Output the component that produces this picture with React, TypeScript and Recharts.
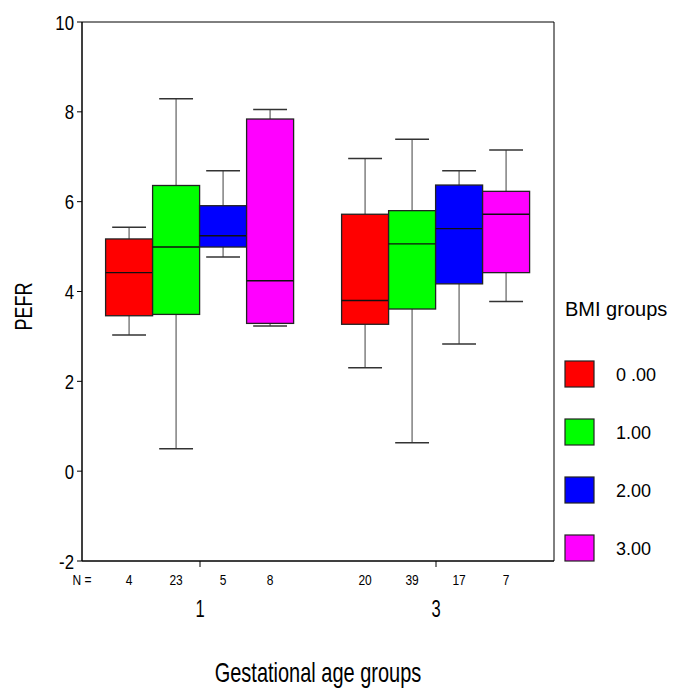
import { ComposedChart, Bar, XAxis, YAxis, ReferenceArea, Legend } from 'recharts'

// gestational age groups on the x axis, BMI groups as side-by-side boxes
const gestGroups = ['1', '3']
const bmiLabels = ['0 .00', '1.00', '2.00', '3.00']
const bmiColors = ['#ff0000', '#00ff00', '#0000ff', '#ff00ff']

// rows = gestational group, columns = BMI group
const nCounts = [[4, 23, 5, 8], [20, 39, 17, 7]]
const whiskerLow = [[3.03, 0.5, 4.77, 3.23], [2.3, 0.63, 2.83, 3.78]]
const quartile1 = [[3.46, 3.49, 4.99, 3.29], [3.27, 3.61, 4.17, 4.42]]
const medians = [[4.42, 4.99, 5.24, 4.24], [3.8, 5.06, 5.4, 5.72]]
const quartile3 = [[5.17, 6.36, 5.91, 7.84], [5.72, 5.8, 6.37, 6.23]]
const whiskerHigh = [[5.43, 8.29, 6.69, 8.05], [6.96, 7.39, 6.69, 7.15]]

const yTicks = [-2, 0, 2, 4, 6, 8, 10]

const FONT = '"Liberation Sans", Arial, sans-serif'

const data = gestGroups.map((g, gi) => {
  const row: any = { group: g }
  bmiLabels.forEach((_, bi) => {
    row['s' + bi] = {
      lo: whiskerLow[gi][bi],
      q1: quartile1[gi][bi],
      med: medians[gi][bi],
      q3: quartile3[gi][bi],
      hi: whiskerHigh[gi][bi],
      n: nCounts[gi][bi],
    }
  })
  return row
})

// condensed-looking text, like the SPSS output
const SText = ({ x, y, size, sx = 0.75, anchor = 'middle', rotate = false, children }: any) => (
  <text
    transform={`translate(${x},${y})${rotate ? ' rotate(-90)' : ''} scale(${sx},1)`}
    fontSize={size}
    fontFamily={FONT}
    textAnchor={anchor}
    fill="#000"
  >
    {children}
  </text>
)

const BoxShape = (props: any) => {
  const { x, y, width, height, fill, stat } = props
  if (!stat) return null
  const top = Math.min(y, y + height)
  const bot = Math.max(y, y + height)
  const k = (bot - top) / (stat.hi - stat.lo)
  const yOf = (v: number) => top + (stat.hi - v) * k
  const cx = x + width / 2
  const capW = width * 0.72
  const yQ1 = yOf(stat.q1)
  const yQ3 = yOf(stat.q3)
  const yMed = yOf(stat.med)
  return (
    <g>
      <line x1={cx} x2={cx} y1={top} y2={yQ3} stroke="#808080" strokeWidth={1.5} />
      <line x1={cx} x2={cx} y1={yQ1} y2={bot} stroke="#808080" strokeWidth={1.5} />
      <line x1={cx - capW / 2} x2={cx + capW / 2} y1={top} y2={top} stroke="#333" strokeWidth={1.5} />
      <line x1={cx - capW / 2} x2={cx + capW / 2} y1={bot} y2={bot} stroke="#333" strokeWidth={1.5} />
      <rect x={x} y={yQ3} width={width} height={yQ1 - yQ3} fill={fill} stroke="#222" strokeWidth={1.3} />
      <line x1={x} x2={x + width} y1={yMed} y2={yMed} stroke="#111" strokeWidth={1.4} />
      <SText x={cx} y={yOf(yTicks[0]) + 23.5} size={15} sx={0.8}>
        {stat.n}
      </SText>
    </g>
  )
}

const renderYTick = (p: any) => (
  <SText x={p.x - 1} y={p.y + 7.5} size={21} sx={0.8} anchor="end">
    {p.payload.value}
  </SText>
)

const renderXTick = (p: any) => (
  <SText x={p.x} y={p.y + 48} size={23} sx={0.72}>
    {p.payload.value}
  </SText>
)

const renderXLabel = (p: any) => {
  const vb = p.viewBox
  return (
    <g>
      <SText x={vb.x} y={vb.y + 23.5} size={15} sx={0.8}>
        N =
      </SText>
      <SText x={vb.x + vb.width / 2} y={vb.y + 121} size={27} sx={0.74}>
        Gestational age groups
      </SText>
    </g>
  )
}

const renderYLabel = (p: any) => {
  const vb = p.viewBox
  return (
    <SText x={vb.x + 32} y={vb.y + vb.height / 2 + 15} size={24} sx={0.75} rotate>
      PEFR
    </SText>
  )
}

const renderLegend = () => (
  <svg width={120} height={290}>
    <text x={10} y={31} fontSize={20} fontFamily={FONT} fill="#000">
      BMI groups
    </text>
    {bmiLabels.map((lab, i) => (
      <g key={lab}>
        <rect x={10} y={76 + i * 58} width={29} height={26} fill={bmiColors[i]} stroke="#222" strokeWidth={1.2} />
        <text x={61} y={95.5 + i * 58} fontSize={18} fontFamily={FONT} fill="#000">
          {lab}
        </text>
      </g>
    ))}
  </svg>
)

export default function App() {
  return (
    <div>
      <style>{'body{margin:0;overflow:hidden;background:#fff}'}</style>
      <ComposedChart
        width={675}
        height={691}
        data={data}
        margin={{ top: 22, right: 121, bottom: 0, left: 0 }}
        barCategoryGap="10%"
        barGap={0}
      >
        <ReferenceArea y1={-2} y2={10} fill="none" stroke="#000" strokeWidth={1} />
        <XAxis
          dataKey="group"
          height={130}
          tickSize={6}
          interval={0}
          axisLine={{ stroke: '#000' }}
          tickLine={{ stroke: '#000' }}
          tick={renderXTick}
          label={renderXLabel}
        />
        <YAxis
          type="number"
          domain={[-2, 10]}
          ticks={yTicks}
          width={82}
          tickSize={5}
          axisLine={{ stroke: '#000' }}
          tickLine={{ stroke: '#000' }}
          tick={renderYTick}
          label={renderYLabel}
        />
        {bmiLabels.map((lab, bi) => (
          <Bar
            key={lab}
            name={lab}
            dataKey={(d: any) => [d['s' + bi].lo, d['s' + bi].hi]}
            fill={bmiColors[bi]}
            isAnimationActive={false}
            shape={(p: any) => <BoxShape {...p} stat={p.payload && p.payload['s' + bi]} />}
          />
        ))}
        <Legend
          layout="vertical"
          align="center"
          verticalAlign="middle"
          content={renderLegend}
          wrapperStyle={{ left: 555, top: 285, width: 120, height: 290 }}
        />
      </ComposedChart>
    </div>
  )
}
